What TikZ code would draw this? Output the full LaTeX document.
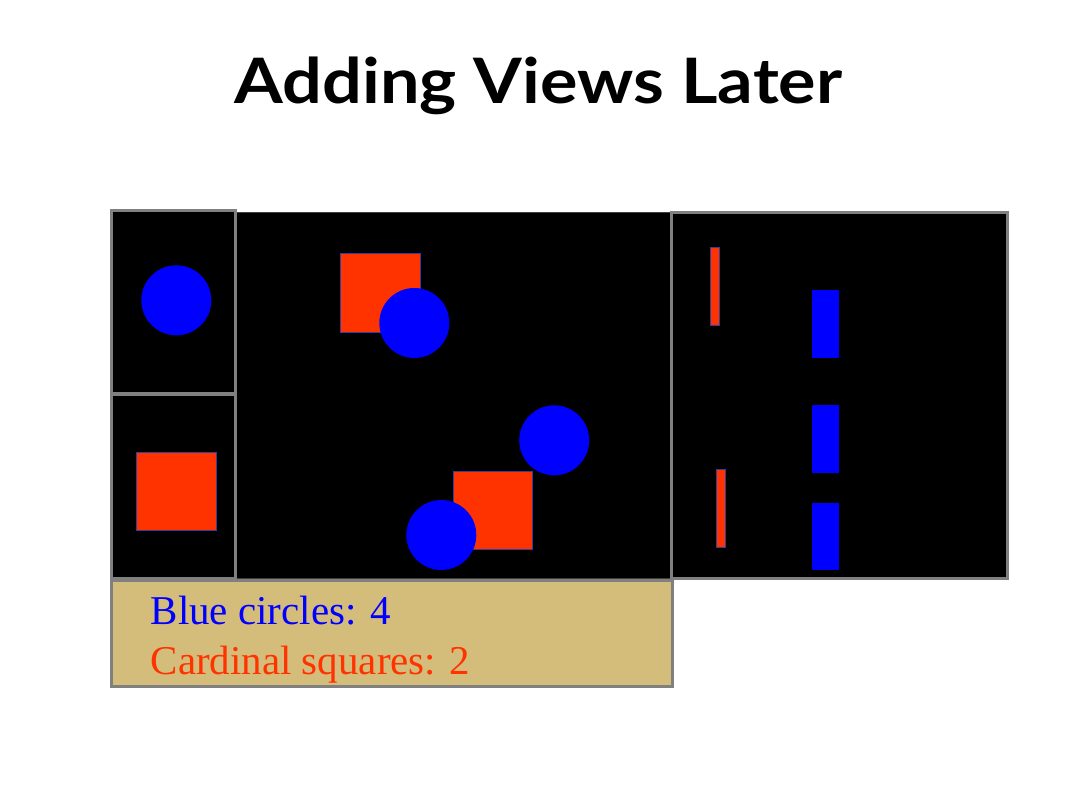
\documentclass[tikz,border=0pt]{standalone}
\usepackage{fontspec}
\setmainfont{Liberation Serif}
\newfontfamily\titlefont{Lato}
\definecolor{shapeblue}{HTML}{0000FF}
\definecolor{cardinal}{HTML}{FF3300}
\definecolor{tan}{HTML}{D4BC7A}
\definecolor{framegray}{HTML}{808080}
\definecolor{edgeblue}{HTML}{3A3A9A}
\tikzset{
  panel/.style={fill=black, draw=framegray, line width=2.25pt},
  midpanel/.style={fill=black, draw=black!75!white, line width=0.75pt},
  bluedot/.style={fill=shapeblue},
  redsq/.style={fill=cardinal, draw=edgeblue, line width=0.5pt},
  bluebar/.style={fill=shapeblue},
  countbox/.style={fill=tan, draw=framegray, line width=2.25pt},
  counttext/.style={font=\fontsize{30.7}{37}\selectfont, inner sep=0pt, anchor=base west}
}
\begin{document}
\begin{tikzpicture}[x=0.75pt,y=-0.75pt]
\useasboundingbox[fill=white] (0,0) rectangle (1080,810);
% title
\node[font=\titlefont\bfseries\fontsize{47}{56}\selectfont, inner sep=0pt, anchor=base, xscale=1.12] (title) at (538.5,103) {Adding Views Later};
% middle panel
\draw[midpanel] (236.5,212.5) rectangle (670,578.5);
\draw[redsq] (340.7,253.3) rectangle (420.3,332);
\fill[bluedot] (414.3,323) circle[radius=35];
\draw[redsq] (453.3,471) rectangle (532.7,549);
\fill[bluedot] (554.2,440.3) circle[radius=35];
\fill[bluedot] (441.3,535) circle[radius=35];
% left panels
\draw[panel] (111.5,210.5) rectangle (235.5,393.5);
\fill[bluedot] (176.3,300.3) circle[radius=35];
\draw[panel] (111.5,394.5) rectangle (235.5,578);
\draw[redsq] (136.7,452.3) rectangle (216.3,530.7);
% right panel
\draw[panel] (671.5,212.5) rectangle (1007.5,578.5);
\draw[redsq] (710.3,247.7) rectangle (719.7,325.7);
\draw[redsq] (716.3,469) rectangle (725.7,547);
\fill[bluebar] (811.7,290) rectangle (839.3,358.3);
\fill[bluebar] (811.7,405.3) rectangle (839.3,473);
\fill[bluebar] (811.7,502.7) rectangle (839.3,570.3);
% count box
\draw[countbox] (111.5,580.5) rectangle (672.5,686.5);
\node[counttext, text=shapeblue] (blue) at (150.5,624) {Blue circles: 4};
\node[counttext, text=cardinal] (red) at (150.5,674) {Cardinal squares: 2};
\end{tikzpicture}
\end{document}
